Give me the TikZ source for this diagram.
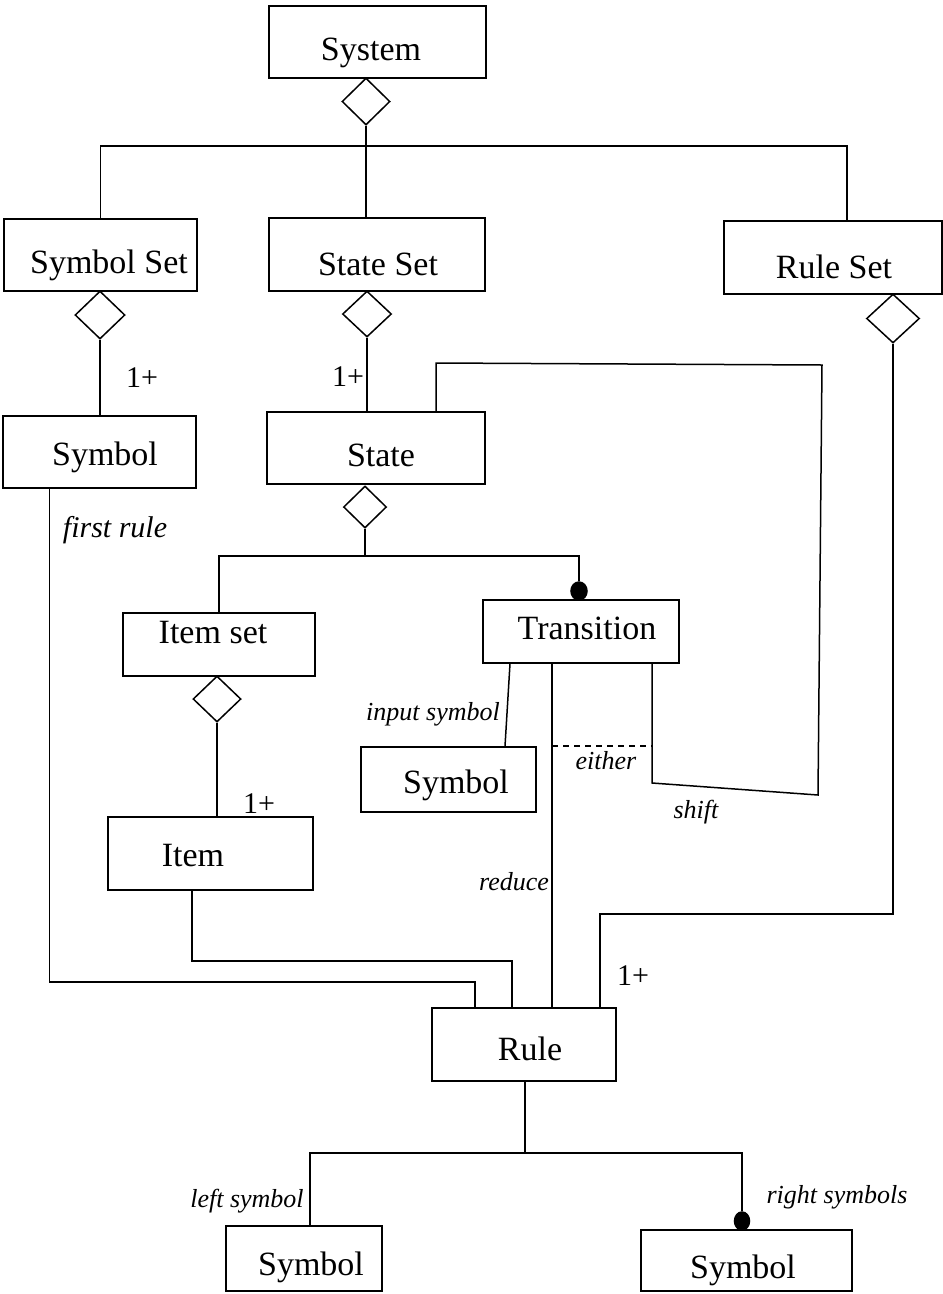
\documentclass[tikz,border=0pt]{standalone}
\usepackage{fontspec}
\setmainfont{Liberation Serif}
\usetikzlibrary{shapes.geometric}
\newcommand\mybox[5]{\node[box, minimum width={#4-#2}, minimum height={#5-#3}] (#1) at ({(#2+#4)/2},{(#3+#5)/2}) {};}
\begin{document}
\begin{tikzpicture}[x=1pt,y=-1pt, line width=1.5pt,
  box/.style={draw, rectangle, inner sep=0pt},
  agg/.style={draw, diamond, inner sep=0pt, fill=white},
  lbl/.style={anchor=base, inner sep=0pt, font=\fontsize{34}{40}\selectfont},
  rl/.style={anchor=base, inner sep=0pt, font=\fontsize{26}{30}\selectfont\itshape},
  mult/.style={anchor=base, inner sep=0pt, font=\fontsize{30}{36}\selectfont},
  dot/.style={draw, fill=black, ellipse, inner sep=0pt, minimum width=16, minimum height=18}]
\useasboundingbox (0,0) rectangle (943,1294);

% boxes
\mybox{system}{269}{6}{486}{78}
\mybox{symset}{4}{219}{197}{291}
\mybox{stateset}{269}{218}{485}{291}
\mybox{ruleset}{724}{221}{942}{294}
\mybox{symbol1}{3}{416}{196}{488}
\mybox{state}{267}{412}{485}{484}
\mybox{itemset}{123}{613}{315}{676}
\mybox{transition}{483}{600}{679}{663}
\mybox{symin}{361}{747}{536}{812}
\mybox{item}{108}{817}{313}{890}
\mybox{rule}{432}{1008}{616}{1081}
\mybox{symL}{226}{1226}{382}{1291}
\mybox{symR}{641}{1230}{852}{1291}

% box texts
\node[lbl] (t-system) at (371,60) {System};
\node[lbl] (t-symset) at (109,273) {Symbol Set};
\node[lbl] (t-stateset) at (378,275) {State Set};
\node[lbl] (t-ruleset) at (834,278) {Rule Set};
\node[lbl] (t-symbol1) at (105,465) {Symbol};
\node[lbl] (t-state) at (381,466) {State};
\node[lbl] (t-itemset) at (213,643) {Item set};
\node[lbl] (t-transition) at (587,639) {Transition};
\node[lbl] (t-symin) at (456,793) {Symbol};
\node[lbl] (t-item) at (193,866) {Item};
\node[lbl] (t-rule) at (530,1060) {Rule};
\node[lbl] (t-symL) at (311,1275) {Symbol};
\node[lbl] (t-symR) at (743,1278) {Symbol};

% aggregation diamonds
\node[agg, minimum width=48, minimum height=47] (dsys) at (366,101.5) {};
\node[agg, minimum width=50, minimum height=48] (dss) at (100,315) {};
\node[agg, minimum width=49, minimum height=46] (dsts) at (367,314) {};
\node[agg, minimum width=53, minimum height=49] (drs) at (893,318.5) {};
\node[agg, minimum width=43, minimum height=42] (dst) at (365,507) {};
\node[agg, minimum width=48, minimum height=46] (dis) at (217,699) {};

% filled dots
\node[dot] (tdot) at (579,591) {};
\node[dot, minimum width=15, minimum height=18] (rdot) at (742,1221) {};

% connectors
\coordinate (bus) at (366,146);
\draw (dsys.south) -- (dsys.south |- stateset.north);
\draw (symset.north) |- (bus) -| ([xshift=14pt]ruleset.north);
\draw (dss.south) -- (dss.south |- symbol1.north);
\draw (dsts.south) -- (dsts.south |- state.north);

% shift loop
\draw ([xshift=60pt]state.north) -- (436,363) -- (822,365) -- (818,795) -- (652,783) -- ([xshift=71pt]transition.south);

% state composition
\coordinate (sbus) at (365,556);
\draw (dst.south) -- (sbus);
\draw (itemset.north) |- (579,556) -- (tdot.north);
\draw (dis.south) -- (dis.south |- item.north);

% transition links
\draw ([xshift=-71pt]transition.south) -- ([xshift=56.5pt]symin.north);
\draw ([xshift=-29pt]transition.south) -- ([xshift=28pt]rule.north);
\coordinate (eithA) at (552,746);
\coordinate (eithB) at (652,746);
\draw[dashed, line width=1.2pt, dash pattern=on 6pt off 5pt] (eithA) -- (eithB);

% links into rule
\draw ([xshift=-18.5pt]item.south) |- (512,961) -- ([xshift=-12pt]rule.north);
\draw ([xshift=-50pt]symbol1.south) |- (475,982) -- ([xshift=-49pt]rule.north);
\draw (drs.south) |- (600,914) -- ([xshift=76pt]rule.north);

% rule to symbols
\draw ([xshift=1pt]rule.south) -- (525,1153);
\draw ([xshift=6pt]symL.north) |- (742,1153) -- (rdot.north);

% role labels
\node[rl, font=\fontsize{30}{36}\selectfont\itshape] (l-first) at (115,537) {first rule};
\node[rl] (l-input) at (433,720) {input symbol};
\node[rl] (l-either) at (606,769) {either};
\node[rl] (l-shift) at (696,818) {shift};
\node[rl] (l-reduce) at (514,890) {reduce};
\node[rl] (l-left) at (247,1207) {left symbol};
\node[rl] (l-right) at (837,1203) {right symbols};

% multiplicities
\node[mult] (m1) at (142,387) {1+};
\node[mult] (m2) at (348,386) {1+};
\node[mult] (m3) at (259,813) {1+};
\node[mult] (m4) at (633,985) {1+};
\end{tikzpicture}
\end{document}
